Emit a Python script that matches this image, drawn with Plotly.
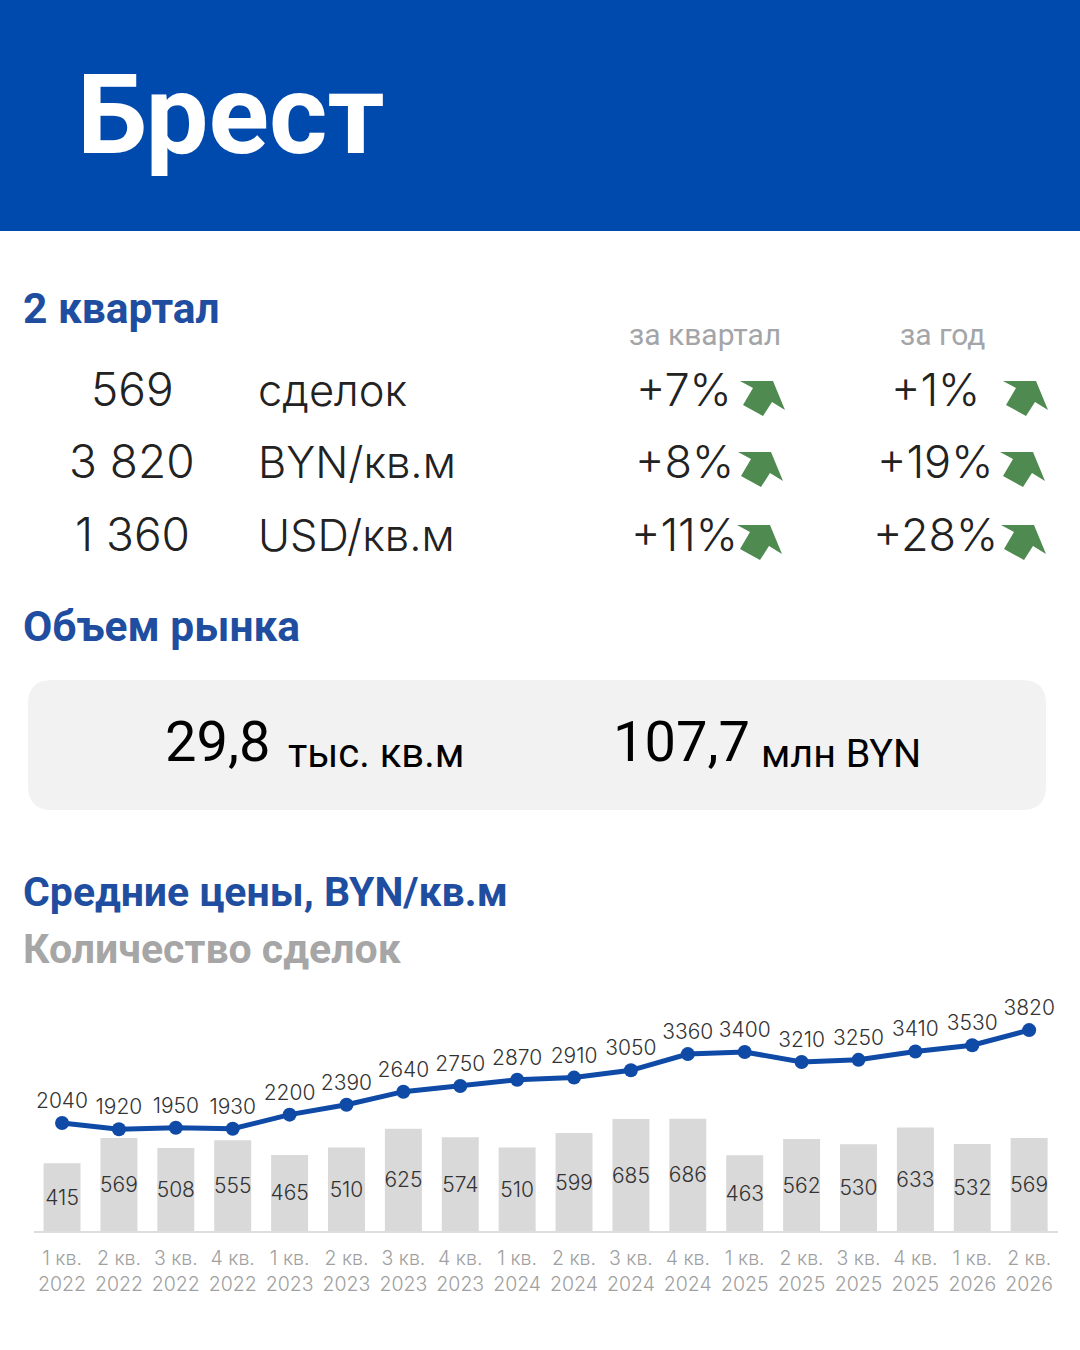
import plotly.graph_objects as go

W = 1080
H = 1350

quarters = ["1 кв.<br>2022", "2 кв.<br>2022", "3 кв.<br>2022", "4 кв.<br>2022",
            "1 кв.<br>2023", "2 кв.<br>2023", "3 кв.<br>2023", "4 кв.<br>2023",
            "1 кв.<br>2024", "2 кв.<br>2024", "3 кв.<br>2024", "4 кв.<br>2024",
            "1 кв.<br>2025", "2 кв.<br>2025", "3 кв.<br>2025", "4 кв.<br>2025",
            "1 кв.<br>2026", "2 кв.<br>2026"]
deals = [415, 569, 508, 555, 465, 510, 625, 574, 510, 599, 685, 686, 463, 562, 530, 633, 532, 569]
prices = [2040, 1920, 1950, 1930, 2200, 2390, 2640, 2750, 2870, 2910, 3050, 3360, 3400, 3210, 3250, 3410, 3530, 3820]

kpi_values = ["569", "3 820", "1 360"]
kpi_units = ["сделок", "BYN/кв.м", "USD/кв.м"]
kpi_quarter = ["+7%", "+8%", "+11%"]
kpi_year = ["+1%", "+19%", "+28%"]

BLUE = "#1f4ea1"
NUM_FONT = "Inter"


def px(x):
    return x / W


def py(y):
    return 1 - y / H


def label(x, y, text, size, color="#222222", family="Roboto", anchor="left", weight=400):
    return dict(x=px(x), y=py(y), xref="paper", yref="paper", text=text, showarrow=False,
                xanchor=anchor, yanchor="middle",
                font=dict(family=family, size=size, color=color, weight=weight))


# shapes drawn in pixels, converted to paper
def rounded(x0, y0, x1, y1, r):
    return (f"M {px(x0 + r)},{py(y0)} L {px(x1 - r)},{py(y0)} Q {px(x1)},{py(y0)} {px(x1)},{py(y0 + r)} "
            f"L {px(x1)},{py(y1 - r)} Q {px(x1)},{py(y1)} {px(x1 - r)},{py(y1)} "
            f"L {px(x0 + r)},{py(y1)} Q {px(x0)},{py(y1)} {px(x0)},{py(y1 - r)} "
            f"L {px(x0)},{py(y0 + r)} Q {px(x0)},{py(y0)} {px(x0 + r)},{py(y0)} Z")


def arrow_path(x, y):
    pts = [(0, 0), (33, 0), (45, 29), (32, 21), (23, 35), (3, 24), (13, 7)]
    return "M " + " L ".join(f"{px(x + a)},{py(y + b)}" for a, b in pts) + " Z"


fig = go.Figure()

fig.add_trace(go.Bar(
    x=quarters, y=deals, width=0.65, marker=dict(color="#d9d9d9", line_width=0),
    text=deals, textposition="inside", insidetextanchor="middle", textangle=0,
    constraintext="none",
    textfont=dict(family=NUM_FONT, size=21, color="#333333", weight=300),
    hoverinfo="skip",
))
fig.add_trace(go.Scatter(
    x=quarters, y=prices, yaxis="y2", mode="lines+markers+text",
    line=dict(color="#0f4aa6", width=5),
    marker=dict(color="#0f4aa6", size=14),
    text=prices, textposition="top center",
    textfont=dict(family=NUM_FONT, size=21, color="#333333", weight=300),
    hoverinfo="skip",
))

shapes = [
    dict(type="rect", xref="paper", yref="paper", x0=0, x1=1, y0=py(231), y1=1,
         fillcolor="#004aad", line_width=0, layer="below"),
    dict(type="path", xref="paper", yref="paper", path=rounded(28, 680, 1046, 810, 24),
         fillcolor="#f2f2f2", line_width=0, layer="below"),
]
arrow_spots = [(740, 381), (738, 452), (737, 525), (1003, 381), (1000, 452), (1001, 525)]
for ax, ay in arrow_spots:
    shapes.append(dict(type="path", xref="paper", yref="paper", path=arrow_path(ax, ay),
                       fillcolor="#4f8a50", line_width=0))

annotations = [
    label(75, 115, "Брест", 112, "#ffffff", weight=700),
    label(21, 308, "2 квартал", 42.5, BLUE, weight=700),
    label(705, 334, "за квартал", 30, "#a3a5a8", anchor="center"),
    label(942, 335, "за год", 30, "#a3a5a8", anchor="center"),
    label(21, 626, "Объем рынка", 42.5, BLUE, weight=700),
    label(163, 742, "29,8", 56, "#000000"),
    label(286, 753, "тыс. кв.м", 40, "#000000"),
    label(611, 742, "107,7", 56, "#000000"),
    label(759, 753, "млн BYN", 39.5, "#000000"),
    label(21, 892, "Средние цены, BYN/кв.м", 41, BLUE, weight=700),
    label(21, 949, "Количество сделок", 41, "#a6a6a6", weight=700),
]

rows_y = [389, 461, 534]
for i, y in enumerate(rows_y):
    annotations.append(label(132, y, kpi_values[i], 46, "#222222", NUM_FONT, "center", 300))
    annotations.append(label(256, y + 1, kpi_units[i], 43.5, "#222222", NUM_FONT, "left", 300))
    annotations.append(label(684, y, kpi_quarter[i], 45, "#222222", NUM_FONT, "center", 300))
    annotations.append(label(935, y, kpi_year[i], 45, "#222222", NUM_FONT, "center", 300))

fig.update_layout(
    width=W, height=H, margin=dict(l=0, r=0, t=0, b=0),
    paper_bgcolor="#ffffff", plot_bgcolor="rgba(0,0,0,0)",
    showlegend=False, bargap=0.35,
    xaxis=dict(domain=[px(33.6), px(1057.6)], range=[-0.5, 17.5], type="category",
               categoryorder="array", categoryarray=quarters,
               showgrid=False, showline=True, linecolor="#dddddd", linewidth=2,
               ticks="outside", ticklen=9, tickcolor="rgba(0,0,0,0)",
               tickfont=dict(family=NUM_FONT, size=19.5, color="#a0a0a0", weight=300),
               tickangle=0),
    yaxis=dict(domain=[py(1231), py(990)], range=[0, 1474], visible=False),
    yaxis2=dict(domain=[py(1231), py(990)], range=[-29, 4588], overlaying="y", visible=False),
    shapes=shapes, annotations=annotations,
)

fig.write_html("out.html", config={"displayModeBar": False},
               post_script="document.body.style.margin='0';")
